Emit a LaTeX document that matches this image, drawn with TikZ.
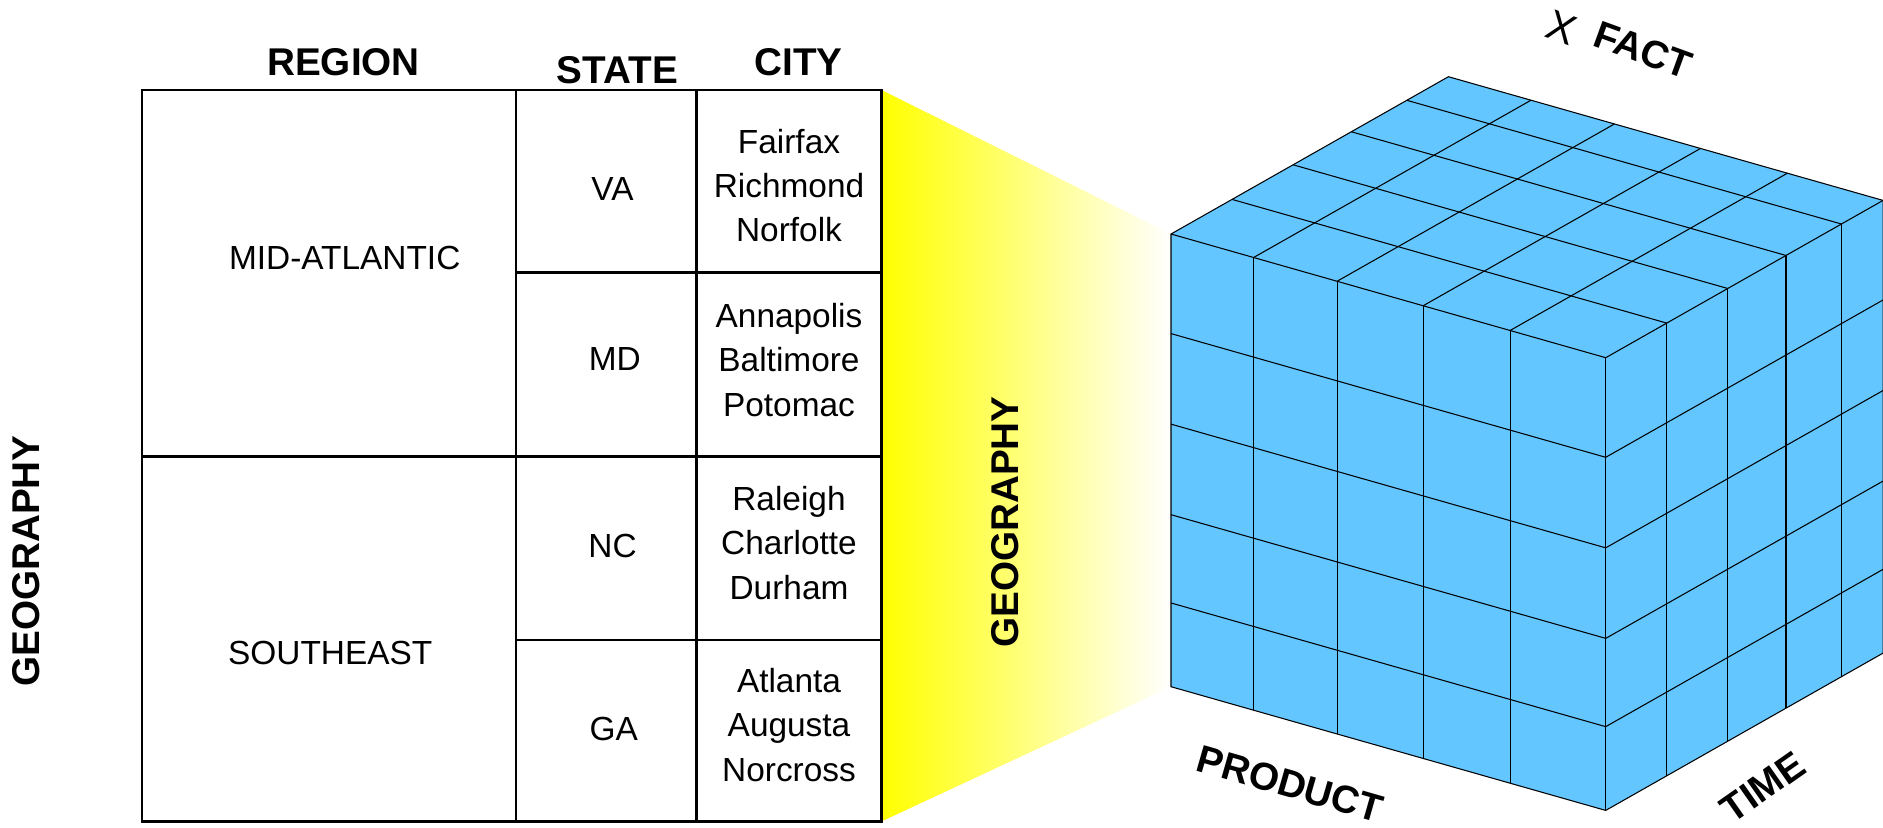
\documentclass[tikz,border=0pt]{standalone}
\usepackage{fontspec}
\setmainfont{Liberation Sans}
\usetikzlibrary{calc}

\definecolor{cubeblue}{RGB}{99,198,255}

\begin{document}
\begin{tikzpicture}[
    x=0.01cm, y=-0.01cm,
    % Node styles
    headlabel/.style={
        font=\fontsize{11}{13}\selectfont\bfseries,
        inner sep=0pt
    },
    celltext/.style={
        font=\fontsize{9.5}{12.6}\selectfont,
        align=center,
        inner sep=0pt
    },
    dimlabel/.style={
        font=\fontsize{11}{13}\selectfont\bfseries,
        inner sep=0pt
    },
    tableline/.style={
        line width=0.7pt,
        black
    },
    gridline/.style={
        line width=0.3pt,
        black
    }
]
\useasboundingbox (0,0) rectangle (1883,827);

% === Cube corners ===
\coordinate (ftl) at (1171,234);
\coordinate (ftr) at (1605.7,357.7);
\coordinate (fbr) at (1605.7,810.4);
\coordinate (fbl) at (1171,686.7);
\coordinate (btl) at (1448.4,76.7);
\coordinate (btr) at (1883,200.4);
\coordinate (bbr) at (1883,653.1);

% === Yellow projection ===
\shade[left color=yellow, right color=white]
    (881.5,90) -- (ftl) -- (fbl) -- (881.5,821.4) -- cycle;

% === Table (Left) ===
\draw[tableline] (142,90) rectangle (881.5,821.4);
\draw[tableline] (516,90) -- (516,821.4);
\draw[tableline] (696.5,90) -- (696.5,821.4);
\draw[tableline] (142,456.3) -- (881.5,456.3);
\draw[tableline] (516,272.6) -- (881.5,272.6);
\draw[tableline] (516,640) -- (881.5,640);

% Column headers
\node[headlabel] (region) at (343.5,62.4) {REGION};
\node[headlabel] (state) at (617.3,69.7) {STATE};
\node[headlabel] (city) at (798.6,62.4) {CITY};

% Regions
\node[celltext] (midatl) at (344.7,258.2) {MID-ATLANTIC};
\node[celltext] (southeast) at (330.2,653.3) {SOUTHEAST};

% States
\node[celltext] (va) at (612.5,188.5) {VA};
\node[celltext] (md) at (614.8,359) {MD};
\node[celltext] (nc) at (612.5,546.4) {NC};
\node[celltext] (ga) at (613.7,729) {GA};

% Cities
\node[celltext] (vacities) at (789,185.5) {Fairfax\\Richmond\\Norfolk};
\node[celltext] (mdcities) at (789,360) {Annapolis\\Baltimore\\Potomac};
\node[celltext] (nccities) at (789,543) {Raleigh\\Charlotte\\Durham};
\node[celltext] (gacities) at (789,725) {Atlanta\\Augusta\\Norcross};

% Dimension names
\node[dimlabel, rotate=90] (geoleft) at (26.4,561) {GEOGRAPHY};
\node[dimlabel, rotate=90] (geomid) at (1005,522) {GEOGRAPHY};

% === Cube (Right) ===
\fill[cubeblue] (ftl) -- (ftr) -- (fbr) -- (fbl) -- cycle;
\fill[cubeblue] (ftl) -- (btl) -- (btr) -- (ftr) -- cycle;
\fill[cubeblue] (ftr) -- (btr) -- (bbr) -- (fbr) -- cycle;

% front face
\foreach \w in {0.19,0.382,0.58,0.78}
    \draw[gridline] ($(ftl)!\w!(ftr)$) -- ($(fbl)!\w!(fbr)$);
\foreach \h in {0.22,0.42,0.62,0.815}
    \draw[gridline] ($(ftl)!\h!(fbl)$) -- ($(ftr)!\h!(fbr)$);

% top face
\foreach \d in {0.22,0.44,0.65,0.85}
    \draw[gridline] ($(ftl)!\d!(btl)$) -- ($(ftr)!\d!(btr)$);
\foreach \w in {0.19,0.382,0.58,0.78}
    \draw[gridline] ($(ftl)!\w!(ftr)$) -- ($(btl)!\w!(btr)$);

% right face
\foreach \d in {0.22,0.44,0.65,0.85}
    \draw[gridline] ($(ftr)!\d!(btr)$) -- ($(fbr)!\d!(bbr)$);
\foreach \h in {0.22,0.42,0.62,0.815}
    \draw[gridline] ($(ftr)!\h!(fbr)$) -- ($(btr)!\h!(bbr)$);

% outline
\draw[gridline] (fbl) -- (ftl) -- (btl) -- (btr) -- (bbr) -- (fbr) -- cycle;
\draw[gridline] (ftl) -- (ftr) -- (btr);
\draw[gridline] (ftr) -- (fbr);

% Cube axis labels
\node[font=\fontsize{12}{14}\selectfont, inner sep=0pt, rotate=-20] (times) at (1562,28) {X};
\node[dimlabel, rotate=-20] (fact) at (1643,50) {FACT};
\node[dimlabel, rotate=-16] (product) at (1290,784) {PRODUCT};
\node[dimlabel, rotate=35] (time) at (1763,787) {TIME};

\end{tikzpicture}
\end{document}
